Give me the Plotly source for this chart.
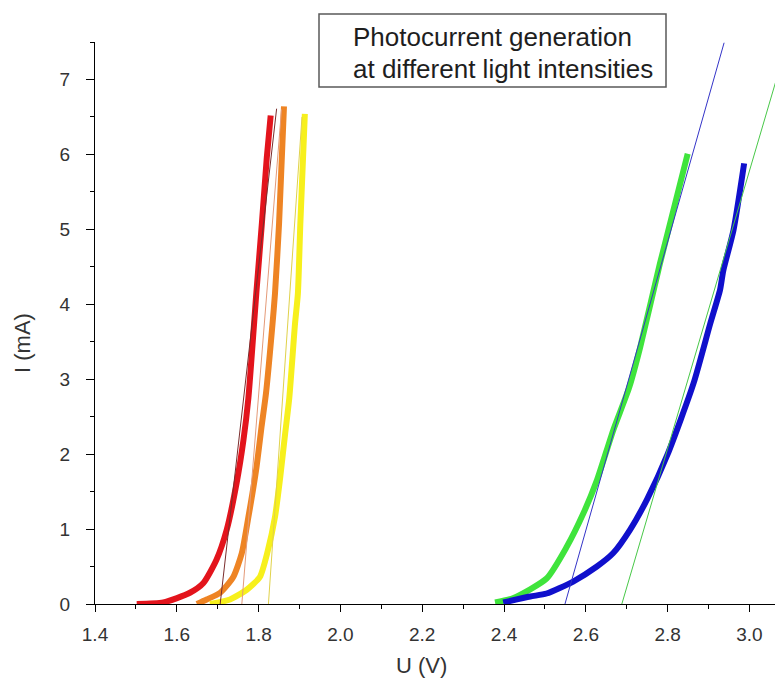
import plotly.graph_objects as go

# ---- data (U in V, I in mA) ----
red_u = [1.502, 1.567, 1.632, 1.665, 1.697, 1.722, 1.746, 1.763, 1.775, 1.795, 1.808, 1.820, 1.8295]
red_i = [0.00, 0.02, 0.15, 0.28, 0.59, 0.99, 1.61, 2.19, 2.75, 4.19, 5.08, 5.96, 6.52]

orange_u = [1.649, 1.673, 1.706, 1.738, 1.759, 1.775, 1.785, 1.795, 1.807, 1.818, 1.834, 1.840, 1.850, 1.862]
orange_i = [0.00, 0.06, 0.15, 0.36, 0.68, 1.16, 1.48, 1.83, 2.36, 2.81, 3.74, 4.14, 5.08, 6.64]

yellow_u = [1.681, 1.730, 1.771, 1.803, 1.822, 1.840, 1.848, 1.853, 1.865, 1.875, 1.889, 1.896, 1.902, 1.913]
yellow_i = [0.00, 0.06, 0.19, 0.36, 0.70, 1.16, 1.48, 1.70, 2.28, 2.75, 3.74, 4.14, 5.08, 6.54]

green_u = [2.378, 2.423, 2.504, 2.553, 2.594, 2.627, 2.667, 2.706, 2.733, 2.781, 2.849]
green_i = [0.02, 0.08, 0.34, 0.76, 1.21, 1.65, 2.32, 2.89, 3.43, 4.54, 6.01]

blue_u = [2.398, 2.464, 2.504, 2.569, 2.627, 2.667, 2.708, 2.750, 2.800, 2.863, 2.904, 2.928, 2.936, 2.961, 2.987]
blue_i = [0.02, 0.10, 0.14, 0.30, 0.50, 0.68, 0.99, 1.40, 2.00, 2.94, 3.74, 4.19, 4.45, 4.99, 5.88]

# thin tangent (linear fit) lines
red_fit_u, red_fit_i = [1.706, 1.844], [0.0, 6.61]
orange_fit_u, orange_fit_i = [1.759, 1.856], [0.0, 6.60]
yellow_fit_u, yellow_fit_i = [1.824, 1.906], [0.0, 6.50]
blue_fit_u, blue_fit_i = [2.549, 2.938], [0.0, 7.49]
green_fit_u, green_fit_i = [2.688, 3.082], [0.0, 7.30]

x_ticks = [1.4, 1.6, 1.8, 2.0, 2.2, 2.4, 2.6, 2.8, 3.0]
y_ticks = [0, 1, 2, 3, 4, 5, 6, 7]

FONT = "Liberation Sans, Arial, sans-serif"

fig = go.Figure()

thick = [
    (red_u, red_i, "#e3141c", 6),
    (orange_u, orange_i, "#ee8424", 6),
    (yellow_u, yellow_i, "#f7f01c", 6),
    (green_u, green_i, "#3fe43c", 6),
    (blue_u, blue_i, "#1010cc", 6),
]
for u, i, c, w in thick:
    fig.add_trace(go.Scatter(x=u, y=i, mode="lines",
                             line=dict(color=c, width=w, shape="spline", smoothing=0.6),
                             showlegend=False, hoverinfo="skip"))

thin = [
    (red_fit_u, red_fit_i, "#7a2c2c"),
    (orange_fit_u, orange_fit_i, "#e49a78"),
    (yellow_fit_u, yellow_fit_i, "#e0d24a"),
    (blue_fit_u, blue_fit_i, "#3434c8"),
    (green_fit_u, green_fit_i, "#48c848"),
]
for u, i, c in thin:
    fig.add_trace(go.Scatter(x=u, y=i, mode="lines",
                             line=dict(color=c, width=1),
                             showlegend=False, hoverinfo="skip"))

axis_common = dict(
    showline=True, linecolor="black", linewidth=1.3,
    ticks="outside", tickwidth=1.3, tickcolor="black",
    showgrid=False, zeroline=False,
    tickfont=dict(family=FONT, size=19, color="#333333"),
)

fig.update_xaxes(range=[1.4, 3.082], tickvals=x_ticks,
                 ticktext=[f"{v:.1f}" for v in x_ticks],
                 ticklen=7, ticklabelstandoff=6,
                 minor=dict(ticks="outside", ticklen=4, dtick=0.1, tick0=1.4,
                            tickcolor="black", tickwidth=1.3),
                 **axis_common)
fig.update_yaxes(range=[0, 7.5], tickvals=y_ticks,
                 ticklen=8, ticklabelstandoff=12,
                 minor=dict(ticks="outside", ticklen=4, dtick=0.5, tick0=0,
                            tickcolor="black", tickwidth=1.3),
                 **axis_common)

# page body has an 8px margin: shrink/shift the figure so it fits the 783x687 window
OFF = 8
W, H = 783 - OFF, 687 - 2 * OFF
L, T = 95 - OFF, 42 - OFF
R = 0
B = H - (604 - OFF)
pw, ph = W - L - R, H - T - B

def px(xw):
    return (xw - OFF - L) / pw

def py(yw):
    return (H - B - (yw - OFF)) / ph

fig.add_shape(type="rect", xref="paper", yref="paper",
              x0=px(319), x1=px(666), y0=py(87), y1=py(14),
              line=dict(color="#5a5a5a", width=1.5), fillcolor="rgba(0,0,0,0)")

fig.add_annotation(xref="paper", yref="paper", x=px(351), y=py(37),
                   xanchor="left", yanchor="middle", showarrow=False,
                   text="Photocurrent generation",
                   font=dict(family=FONT, size=26, color="#1e1e1e"))
fig.add_annotation(xref="paper", yref="paper", x=px(351), y=py(69),
                   xanchor="left", yanchor="middle", showarrow=False,
                   text="at different light intensities",
                   font=dict(family=FONT, size=26, color="#1e1e1e"))

fig.add_annotation(xref="paper", yref="paper", x=px(421), y=py(665),
                   xanchor="center", yanchor="middle", showarrow=False,
                   text="U (V)", font=dict(family=FONT, size=22, color="#333333"))
fig.add_annotation(xref="paper", yref="paper", x=px(22), y=py(343),
                   xanchor="center", yanchor="middle", showarrow=False,
                   textangle=-90,
                   text="I (mA)", font=dict(family=FONT, size=22, color="#333333"))

fig.update_layout(width=W, height=H,
                  margin=dict(l=L, r=R, t=T, b=B, pad=0),
                  plot_bgcolor="white", paper_bgcolor="white",
                  showlegend=False)

fig.write_html("out.html")
